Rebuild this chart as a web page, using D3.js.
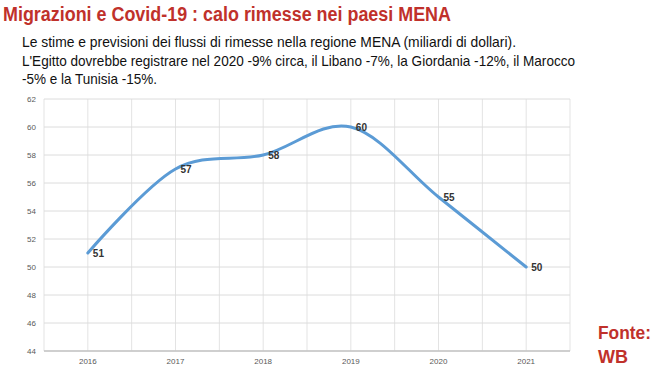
<!DOCTYPE html>
<html><head><meta charset="utf-8">
<script src="https://cdn.jsdelivr.net/npm/d3@7"></script>
<style>body{margin:0;background:#fff}svg{display:block}</style>
</head><body><svg id="c" width="654" height="368"></svg>
<script>
const years = ["2016","2017","2018","2019","2020","2021"];
const values = [51, 57, 58, 60, 55, 50];
const yTicks = [44,46,48,50,52,54,56,58,60,62];
const title = "Migrazioni e Covid-19 : calo rimesse nei paesi MENA";
const subtitle = [
  "Le stime e previsioni dei flussi di rimesse nella regione MENA (miliardi di dollari).",
  "L'Egitto dovrebbe registrare nel 2020 -9% circa, il Libano -7%, la Giordania -12%, il Marocco",
  "-5% e la Tunisia -15%."
];
const source = ["Fonte:", "WB"];

const svg = d3.select("#c");
const font = "'Liberation Sans',Arial,sans-serif";
const L = 44, R = 570, T = 99, B = 351;

svg.append("text").attr("x",3).attr("y",21).text(title)
  .attr("font-family",font).attr("font-size",20).attr("font-weight","bold")
  .attr("fill","#c0312b").attr("textLength",448).attr("lengthAdjust","spacingAndGlyphs");
const subW = [494, 553, 135];
subtitle.forEach((s,i)=>{
  svg.append("text").attr("x",22).attr("y",47+i*18.5).text(s)
    .attr("font-family",font).attr("font-size",14.5).attr("fill","#111")
    .attr("textLength",subW[i]).attr("lengthAdjust","spacingAndGlyphs");
});
const srcW = [53, 30];
source.forEach((s,i)=>{
  svg.append("text").attr("x",598).attr("y",339+i*24).text(s)
    .attr("font-family",font).attr("font-size",18).attr("font-weight","bold")
    .attr("fill","#c0312b").attr("textLength",srcW[i]).attr("lengthAdjust","spacingAndGlyphs");
});

const x = d3.scaleBand().domain(years).range([L,R]);
const y = d3.scaleLinear().domain([44,62]).range([B,T]);

const g = svg.append("g");
const vx = [];
years.forEach(yr=>{ vx.push(x(yr)); vx.push(x(yr)+x.bandwidth()/2); });
vx.push(R);
g.selectAll(".vg").data(vx).join("line")
  .attr("x1",d=>d).attr("x2",d=>d).attr("y1",T).attr("y2",B)
  .attr("stroke","#e3e3e3").attr("stroke-width",1);
g.selectAll(".hg").data(yTicks).join("line")
  .attr("x1",L).attr("x2",R).attr("y1",d=>y(d)).attr("y2",d=>y(d))
  .attr("stroke","#dcdcdc").attr("stroke-width",1);
g.append("line").attr("x1",L).attr("x2",R).attr("y1",B).attr("y2",B)
  .attr("stroke","#c4c4c4").attr("stroke-width",1.3);

const yAxis = d3.axisLeft(y).tickValues(yTicks).tickSize(0).tickPadding(8);
const ya = svg.append("g").attr("transform",`translate(${L},0)`).call(yAxis);
ya.select(".domain").remove();
ya.selectAll("text").attr("font-family",font).attr("font-size",8).attr("fill","#595959");

const xAxis = d3.axisBottom(x).tickSize(0).tickPadding(7);
const xa = svg.append("g").attr("transform",`translate(0,${B})`).call(xAxis);
xa.select(".domain").remove();
xa.selectAll("text").attr("font-family",font).attr("font-size",8).attr("fill","#595959");

const pts = years.map((yr,i)=>[x(yr)+x.bandwidth()/2, y(values[i])]);
const line = d3.line().curve(d3.curveCardinal.tension(0));
svg.append("path").attr("d",line(pts)).attr("fill","none")
  .attr("stroke","#5b9bd5").attr("stroke-width",3).attr("stroke-linecap","round");

svg.selectAll(".lbl").data(values).join("text")
  .attr("x",(d,i)=>pts[i][0]+5).attr("y",(d,i)=>pts[i][1]+4)
  .text(d=>d).attr("font-family",font).attr("font-size",10).attr("font-weight","bold")
  .attr("fill","#333");
</script></body></html>
